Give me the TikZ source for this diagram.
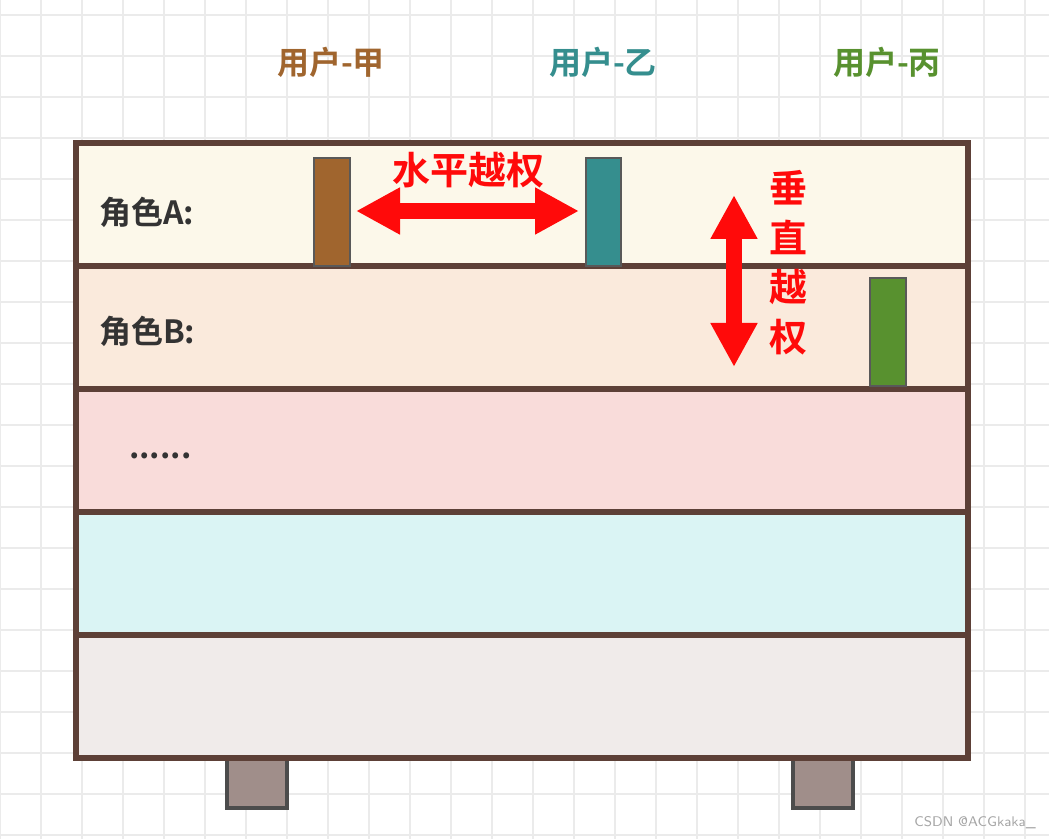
\documentclass[tikz,border=0pt]{standalone}
\usepackage{fontspec}
\newfontfamily\cjk{Noto Sans CJK SC Bold}
\usetikzlibrary{arrows.meta}
\definecolor{frame}{HTML}{5D4037}
\definecolor{bandA}{HTML}{FCF8EA}
\definecolor{bandB}{HTML}{FAEADC}
\definecolor{bandC}{HTML}{F9DCDA}
\definecolor{bandD}{HTML}{DAF4F4}
\definecolor{bandE}{HTML}{F0EBEA}
\definecolor{userJia}{HTML}{A0652E}
\definecolor{userYi}{HTML}{358E8E}
\definecolor{userBing}{HTML}{58912F}
\definecolor{footcol}{HTML}{A08E8A}
\definecolor{arrowred}{HTML}{FF0A0A}
\definecolor{textgray}{HTML}{333333}
\tikzset{
  band/.style={fill=#1, draw=none},
  userbar/.style={fill=#1, draw=gray!70!black, line width=1},
  userlabel/.style={text=#1, font=\cjk\fontsize{16}{18}\selectfont},
  rolelabel/.style={text=textgray, font=\cjk\fontsize{16}{18}\selectfont, anchor=west},
  bigarrow/.style={arrowred, line width=8, {Triangle[length=22,width=22]}-{Triangle[length=22,width=22]}},
  redtext/.style={text=arrowred, font=\cjk\fontsize{19}{21}\selectfont}
}
\begin{document}
\begin{tikzpicture}[x=0.5pt,y=-0.5pt]
    \useasboundingbox (0,0) rectangle (1049,839);

    % --- Background grid ---
    \fill[white] (0,0) rectangle (1049,839);
    \foreach \g in {0,41,...,1049} \draw[black!8, line width=1] (\g,0) -- (\g,839);
    \foreach \g in {15,56,...,839} \draw[black!8, line width=1] (0,\g) -- (1049,\g);

    % --- Feet ---
    \draw[fill=footcol, draw=gray!60!black, line width=2] (227,752) rectangle (287,808);
    \draw[fill=footcol, draw=gray!60!black, line width=2] (793,752) rectangle (853,808);

    % --- Role bands ---
    \fill[band=bandA] (76,143) rectangle (968,266);
    \fill[band=bandB] (76,266) rectangle (968,389);
    \fill[band=bandC] (76,389) rectangle (968,512);
    \fill[band=bandD] (76,512) rectangle (968,635);
    \fill[band=bandE] (76,635) rectangle (968,758);
    \foreach \y in {266,389,512,635}
      \draw[frame, line width=3] (76,\y) -- (968,\y);
    \draw[frame, line width=3] (76,143) rectangle (968,758);

    % --- Role labels ---
    \node[rolelabel] (roleA) at (92,212) {角色A:};
    \node[rolelabel] (roleB) at (92,331) {角色B:};
    \node[rolelabel] (roleDots) at (122,456) {......};

    % --- Users ---
    \node[userlabel=userJia] (jia) at (331,62) {用户-甲};
    \node[userlabel=userYi] (yi) at (603,62) {用户-乙};
    \node[userlabel=userBing] (bing) at (887,62) {用户-丙};
    \draw[userbar=userJia] (314,158) rectangle (350,266);
    \draw[userbar=userYi] (586,158) rectangle (621,266);
    \draw[userbar=userBing] (870,278) rectangle (906,386);

    % --- Horizontal / vertical escalation ---
    \coordinate (hL) at (356,211);
    \coordinate (hR) at (579,211);
    \draw[bigarrow] (hL) -- (hR);
    \node[redtext] (horiz) at (468,170) {水平越权};
    \coordinate (vT) at (734,195);
    \coordinate (vB) at (734,367);
    \draw[bigarrow] (vT) -- (vB);
    \node[redtext] (vert1) at (788,188) {垂};
    \node[redtext] (vert2) at (788,237) {直};
    \node[redtext] (vert3) at (788,287) {越};
    \node[redtext] (vert4) at (788,337) {权};

    % --- Watermark ---
    \node[text=gray!70, font=\sffamily\fontsize{7}{8}\selectfont] (mark) at (975,823) {CSDN @ACGkaka\_};

\end{tikzpicture}
\end{document}
